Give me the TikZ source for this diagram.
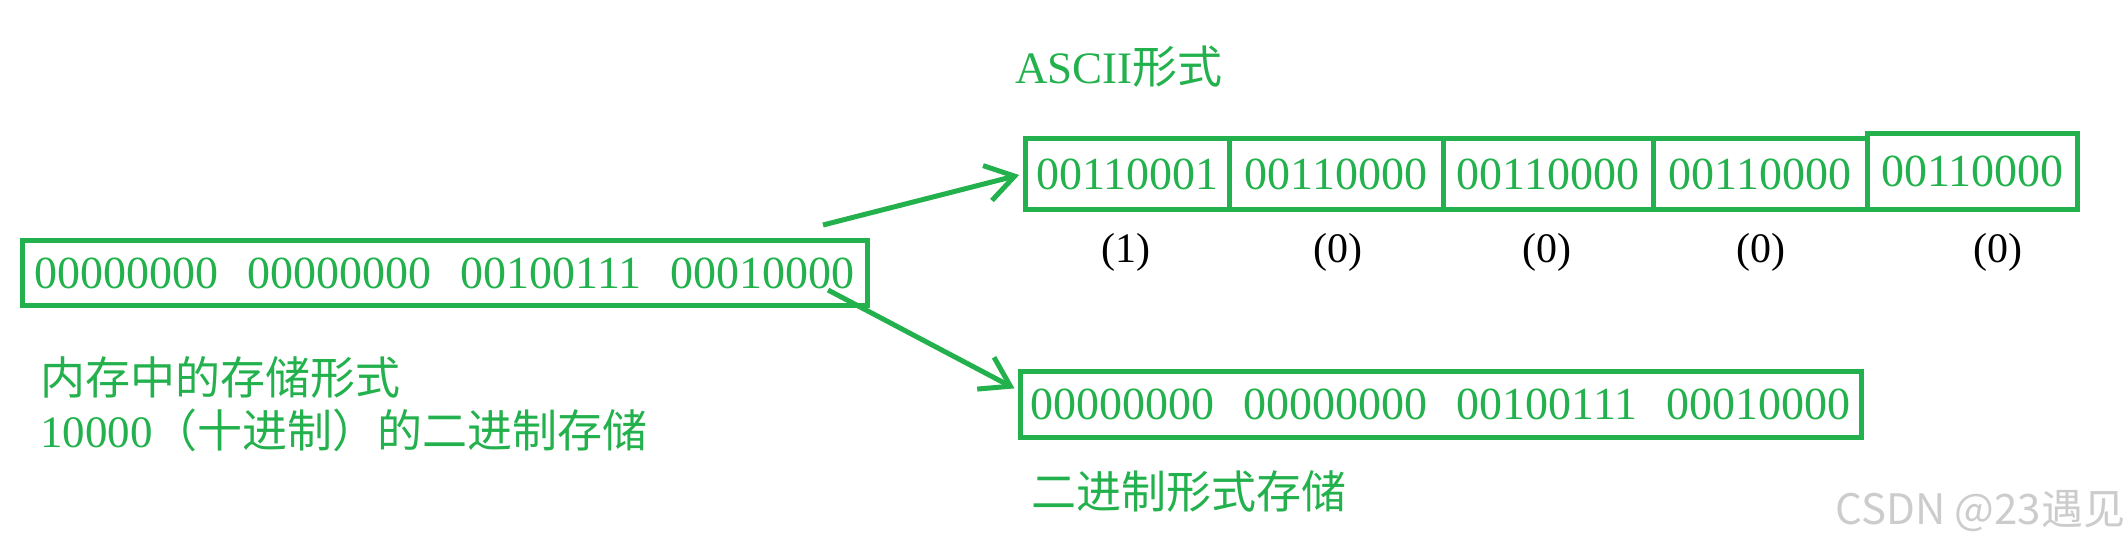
\documentclass[tikz,border=0pt]{standalone}
\usepackage{fontspec}
\setmainfont{Liberation Serif}
\newfontfamily\cjk{Noto Sans CJK SC}
\usetikzlibrary{arrows.meta,calc}
\definecolor{paintgreen}{HTML}{22B14C}
\tikzset{
  bitbox/.style={draw=paintgreen, line width=2.5pt, inner sep=0pt, text=paintgreen, font=\fontsize{23}{27}\selectfont},
  cnnote/.style={text=paintgreen, inner sep=0pt, font=\cjk\fontsize{22.5}{26.5}\selectfont},
  arr/.style={draw=paintgreen, line width=2.5pt, -{Straight Barb[length=14pt,width=18pt]}, shorten >=2pt},
}
\begin{document}
\begin{tikzpicture}[x=0.5pt,y=-0.5pt]
\useasboundingbox (0,0) rectangle (2128,547);

% in memory
\node[bitbox, minimum width=422.25pt, minimum height=32.5pt] (mem) at (444.75,273)
  {00000000\hspace{14.5pt}00000000\hspace{14.5pt}00100111\hspace{14.5pt}00010000};
\node[cnnote, anchor=west, align=left] (memtext) at (40,404.5)
  {内存中的存储形式\\{\rmfamily 10000}（十进制）的二进制存储};

% ascii form
\node[cnnote, anchor=west] (asciitext) at (1015,67) {{\rmfamily ASCII}形式};
\foreach \xl/\xr/\tp/\bits [count=\i] in {1025.5/1229/138.5/00110001, 1229/1443/138.5/00110000,
    1443/1653/138.5/00110000, 1653/1867/138.5/00110000, 1867/2077.5/133.5/00110000}
  \node[bitbox, minimum width={(\xr-\xl)*0.5pt}, minimum height={(209.5-\tp)*0.5pt}]
    (c\i) at ({(\xl+\xr)/2},{(\tp+209.5)/2}) {\bits};
\foreach \x/\v [count=\i] in {1126/1, 1338/0, 1547/0, 1761/0, 1998/0}
  \node[font=\fontsize{21}{25}\selectfont] (v\i) at (\x,252) {(\v)};

% binary form
\node[bitbox, minimum width=420.25pt, minimum height=32.75pt] (bin) at (1440.75,404.25)
  {00000000\hspace{14.5pt}00000000\hspace{14.5pt}00100111\hspace{14.5pt}00010000};
\node[cnnote, anchor=west] (bintext) at (1031,491) {二进制形式存储};

\coordinate (upstart) at (823,225);
\coordinate (downstart) at (828,290);
\draw[arr] (upstart) -- (c1.west);
\draw[arr] (downstart) -- ($(bin.west)+(0,-14)$);

\node[font=\cjk\fontsize{21}{25}\selectfont, text=black!20, anchor=west, inner sep=0pt] (mark) at (1835,511) {CSDN @23遇见};

\end{tikzpicture}
\end{document}
